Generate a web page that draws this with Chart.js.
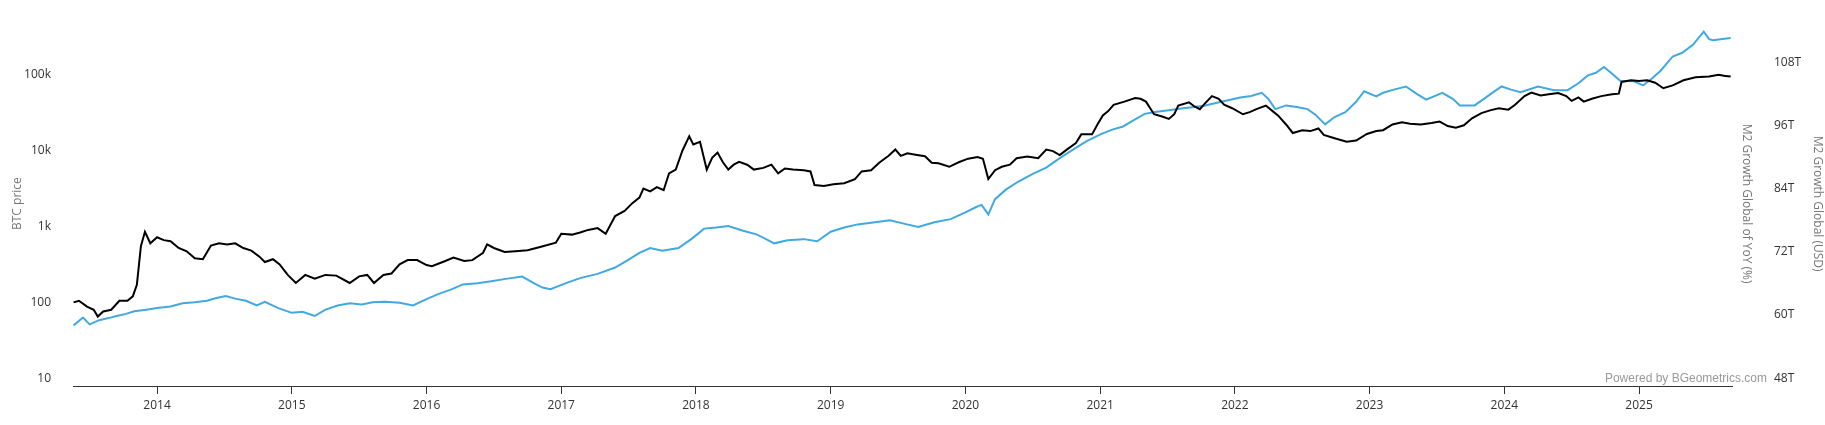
<!DOCTYPE html>
<html>
<head>
<meta charset="utf-8">
<script src="https://cdn.jsdelivr.net/npm/chart.js@4"></script>
<style>
  html, body { margin: 0; padding: 0; background: #fff; }
  #wrap { width: 1825px; height: 425px; }
</style>
</head>
<body>
<div id="wrap"><canvas id="chart"></canvas></div>
<script>
const yearTicks = [2014, 2015, 2016, 2017, 2018, 2019, 2020, 2021, 2022, 2023, 2024, 2025];
const priceTicks = [10, 100, 1000, 10000, 100000];
const m2Ticks = [48, 60, 72, 84, 96, 108];

const btcYears = [2013.38,2013.42,2013.48,2013.53,2013.56,2013.6,2013.66,2013.72,2013.78,2013.82,2013.85,2013.88,2013.91,2013.95,2014.0,2014.05,2014.1,2014.16,2014.22,2014.28,2014.34,2014.4,2014.46,2014.52,2014.58,2014.64,2014.7,2014.76,2014.8,2014.86,2014.91,2014.97,2015.03,2015.1,2015.17,2015.25,2015.33,2015.43,2015.5,2015.56,2015.61,2015.68,2015.74,2015.8,2015.86,2015.93,2016.0,2016.04,2016.13,2016.2,2016.28,2016.34,2016.42,2016.45,2016.5,2016.58,2016.66,2016.75,2016.85,2016.96,2017.0,2017.08,2017.14,2017.2,2017.27,2017.33,2017.4,2017.47,2017.53,2017.58,2017.61,2017.66,2017.71,2017.76,2017.8,2017.85,2017.9,2017.95,2017.98,2018.03,2018.08,2018.12,2018.16,2018.2,2018.24,2018.28,2018.32,2018.38,2018.43,2018.5,2018.56,2018.61,2018.66,2018.72,2018.8,2018.85,2018.88,2018.95,2019.02,2019.1,2019.18,2019.23,2019.3,2019.36,2019.43,2019.48,2019.52,2019.57,2019.63,2019.7,2019.75,2019.8,2019.88,2019.95,2020.02,2020.09,2020.13,2020.17,2020.22,2020.27,2020.33,2020.38,2020.46,2020.54,2020.6,2020.65,2020.7,2020.76,2020.82,2020.86,2020.94,2020.98,2021.02,2021.06,2021.1,2021.18,2021.26,2021.3,2021.34,2021.4,2021.46,2021.51,2021.55,2021.58,2021.66,2021.7,2021.74,2021.78,2021.83,2021.88,2021.92,2021.98,2022.06,2022.11,2022.16,2022.23,2022.28,2022.32,2022.38,2022.43,2022.5,2022.56,2022.62,2022.66,2022.74,2022.83,2022.9,2022.98,2023.05,2023.1,2023.17,2023.24,2023.3,2023.38,2023.46,2023.52,2023.58,2023.64,2023.7,2023.76,2023.83,2023.9,2023.96,2024.03,2024.08,2024.15,2024.2,2024.27,2024.33,2024.4,2024.46,2024.5,2024.55,2024.59,2024.65,2024.72,2024.8,2024.85,2024.87,2024.94,2025.0,2025.06,2025.12,2025.18,2025.25,2025.33,2025.42,2025.52,2025.59,2025.64,2025.68];
const btcPrice = [100,105,88,80,65,76,80,105,105,120,170,550,850,600,720,660,640,520,470,380,370,560,600,580,600,520,480,400,340,370,316,230,180,230,205,230,225,180,220,230,180,230,240,316,360,360,310,300,345,390,350,360,450,580,520,460,470,485,540,610,800,780,830,900,950,800,1370,1600,2040,2400,3160,2900,3300,3000,5000,5600,10000,15400,12000,13000,5600,8000,9400,7000,5600,6500,7100,6500,5600,5900,6500,5000,5800,5600,5500,5300,3500,3400,3600,3700,4200,5300,5500,6900,8500,10300,8500,9200,8800,8400,6900,6800,6100,7000,7800,8200,7800,4200,5500,6100,6500,7900,8300,7900,10300,9800,8700,10500,12500,16300,16300,22000,29000,33000,40000,44000,49000,48000,44000,30000,28000,26000,30000,39000,43000,38000,35000,42000,52000,48000,40000,36000,30000,32000,35000,39000,33000,29000,22000,17000,18500,18000,19500,16000,14500,13000,13500,16500,18000,18500,22000,23500,22500,22000,23000,24000,21000,20000,21500,26500,31000,34000,36000,34500,40000,52000,58000,53000,55000,57000,52000,45000,50000,44000,48000,52000,55000,56000,80000,84000,82000,84000,78000,66000,72000,84000,92000,94000,99000,96000,94000];

const m2Years = [2013.38,2013.45,2013.5,2013.57,2013.64,2013.7,2013.77,2013.83,2013.92,2014.0,2014.1,2014.19,2014.28,2014.37,2014.44,2014.51,2014.58,2014.66,2014.74,2014.8,2014.9,2015.0,2015.08,2015.17,2015.25,2015.34,2015.43,2015.52,2015.6,2015.69,2015.8,2015.9,2016.0,2016.09,2016.18,2016.27,2016.38,2016.48,2016.6,2016.71,2016.8,2016.86,2016.92,2017.03,2017.14,2017.27,2017.4,2017.5,2017.58,2017.66,2017.75,2017.87,2017.97,2018.06,2018.15,2018.24,2018.35,2018.45,2018.52,2018.58,2018.68,2018.8,2018.9,2019.0,2019.1,2019.2,2019.3,2019.44,2019.55,2019.65,2019.77,2019.89,2020.0,2020.08,2020.12,2020.17,2020.22,2020.3,2020.39,2020.5,2020.6,2020.7,2020.81,2020.9,2021.01,2021.09,2021.17,2021.25,2021.33,2021.42,2021.51,2021.6,2021.7,2021.78,2021.9,2022.04,2022.12,2022.2,2022.25,2022.3,2022.38,2022.46,2022.54,2022.6,2022.67,2022.74,2022.82,2022.9,2022.96,2023.05,2023.1,2023.18,2023.27,2023.35,2023.42,2023.54,2023.62,2023.67,2023.78,2023.83,2023.9,2023.98,2024.05,2024.12,2024.25,2024.37,2024.47,2024.55,2024.62,2024.68,2024.74,2024.8,2024.86,2024.96,2025.03,2025.1,2025.16,2025.25,2025.32,2025.4,2025.48,2025.52,2025.55,2025.62,2025.68];
const m2Value = [58,59.5,58.2,59,59.4,59.8,60.2,60.7,61,61.3,61.6,62.2,62.4,62.7,63.2,63.6,63.1,62.7,61.8,62.5,61.3,60.4,60.6,59.8,61,61.8,62.2,62,62.4,62.5,62.3,61.8,63,64,64.8,65.8,66,66.4,66.9,67.3,66,65.2,64.9,66,67,67.8,69,70.5,71.8,72.7,72.2,72.7,74.5,76.4,76.6,76.9,76,75.3,74.4,73.6,74.2,74.4,74,75.8,76.6,77.2,77.5,78,77.3,76.7,77.6,78.2,79.5,80.5,80.9,79.1,82,83.8,85.3,86.8,88,89.8,91.6,93,94.4,95.2,95.8,97,98.2,98.6,98.9,99.2,99.5,99.8,100.5,101.3,101.6,102.2,101,99.1,99.8,99.5,99.1,98,96.2,97.6,98.5,100.5,102.5,101.5,102.2,102.8,103.4,102,100.9,102.2,101,99.8,99.8,100.7,102,103.4,102.8,102.3,103.4,102.7,102.7,104,105.5,106,107.1,105.8,104.5,104.4,103.6,105,106.4,109.1,109.8,111.3,113.8,112.4,112.2,112.4,112.6];

const toPoints = (xs, ys) => xs.map((x, i) => ({ x: x, y: ys[i] }));

function formatPrice(v) {
    return v >= 1000 ? (v / 1000) + 'k' : String(v);
}

// Small footer text in the bottom-right corner
const creditPlugin = {
    id: 'credit',
    afterDraw(chart) {
        const ctx = chart.ctx;
        ctx.save();
        ctx.font = '12px "Liberation Sans", Arial, sans-serif';
        ctx.fillStyle = '#999';
        ctx.textAlign = 'right';
        ctx.textBaseline = 'middle';
        ctx.fillText('Powered by BGeometrics.com', 1767, 379);
        ctx.restore();
    }
};

const tickFont = { family: '"Open Sans", "Noto Sans", sans-serif', size: 12 };

new Chart(document.getElementById('chart'), {
    type: 'line',
    data: {
        datasets: [{
            label: 'BTC price',
            data: toPoints(btcYears, btcPrice),
            yAxisID: 'yPrice',
            borderColor: '#000',
            borderWidth: 2,
            pointRadius: 0,
            tension: 0
        }, {
            label: 'M2 Growth Global (USD)',
            data: toPoints(m2Years, m2Value),
            yAxisID: 'yM2',
            borderColor: '#41a9e1',
            borderWidth: 2,
            pointRadius: 0,
            tension: 0
        }]
    },
    options: {
        responsive: true,
        maintainAspectRatio: false,
        animation: false,
        layout: { padding: { top: 5 } },
        plugins: { legend: { display: false }, tooltip: { enabled: false } },
        scales: {
            x: {
                type: 'linear',
                min: 2013.376,
                max: 2025.69,
                afterBuildTicks: axis => { axis.ticks = yearTicks.map(v => ({ value: v })); },
                afterFit: axis => { axis.height = 39; },
                ticks: { font: tickFont, color: '#333', padding: 4, callback: v => String(v) },
                grid: { drawOnChartArea: false, drawTicks: true, tickLength: 8, color: '#333' },
                border: { color: '#333' }
            },
            yPrice: {
                type: 'logarithmic',
                position: 'left',
                min: 7.92,
                max: 504000,
                afterBuildTicks: axis => { axis.ticks = priceTicks.map(v => ({ value: v })); },
                afterFit: axis => { axis.width = 73; },
                ticks: { font: tickFont, color: '#333', padding: 14, callback: v => formatPrice(v) },
                grid: { display: false },
                border: { display: false },
                title: { display: true, text: 'BTC price', color: '#777', font: tickFont, padding: { top: 10, bottom: 0 } }
            },
            yYoY: {
                position: 'right',
                weight: 1,
                min: 0,
                max: 1,
                afterFit: axis => { axis.width = 30; },
                ticks: { display: false },
                grid: { display: false, drawTicks: false },
                border: { display: false },
                title: { display: true, text: 'M2 Growth Global of YoY (%)', color: '#777', font: tickFont, padding: { top: 8, bottom: 0 } }
            },
            yM2: {
                position: 'right',
                weight: 2,
                min: 46.5,
                max: 115.8,
                afterBuildTicks: axis => { axis.ticks = m2Ticks.map(v => ({ value: v })); },
                afterFit: axis => { axis.width = 63; },
                ticks: { font: tickFont, color: '#333', padding: 12, callback: v => v + 'T' },
                grid: { display: false, drawTicks: false },
                border: { display: false },
                title: { display: true, text: 'M2 Growth Global (USD)', color: '#777', font: tickFont, padding: { top: 0, bottom: 2 } }
            }
        }
    },
    plugins: [creditPlugin]
});
</script>
</body>
</html>
